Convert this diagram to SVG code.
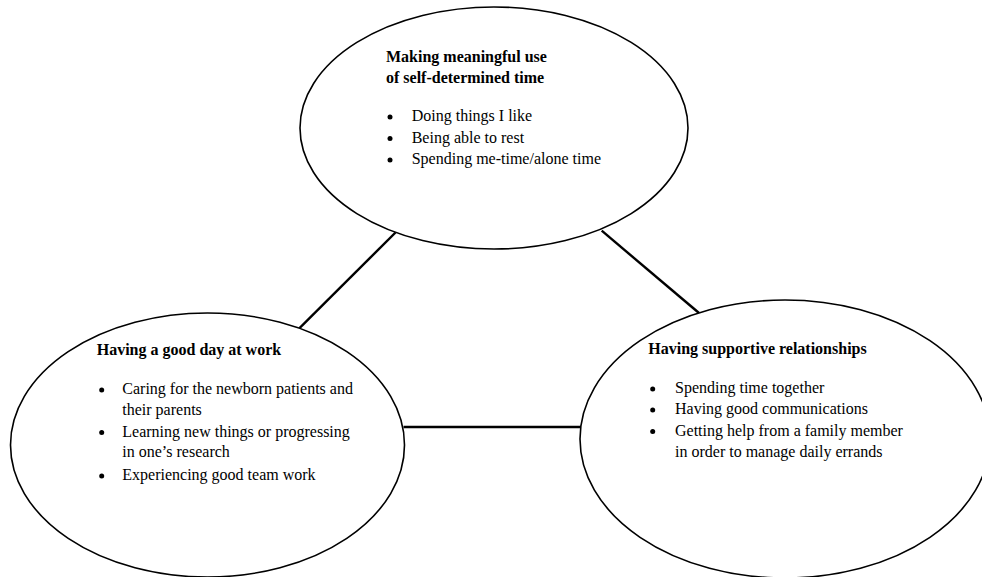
<svg xmlns="http://www.w3.org/2000/svg" width="982" height="577" viewBox="0 0 982 577">
<style>
.bg{fill:#ffffff}
.node{fill:#ffffff;stroke:#000000;stroke-width:1.6}
.edge{stroke:#000000;stroke-width:2.4;fill:none}
.dot{fill:#000000}
text{font-family:"Liberation Serif","Times New Roman",serif;font-size:16px;fill:#000000}
.title{font-weight:bold}
</style>
<rect class="bg" x="0" y="0" width="982" height="577"/>
<g id="connectors">
<line class="edge" x1="395.5" y1="232.5" x2="299.5" y2="328.2"/>
<line class="edge" x1="601.7" y1="230.7" x2="699" y2="313"/>
<line class="edge" x1="403.5" y1="427" x2="583.5" y2="427"/>
</g>
<g id="node-time">
<ellipse class="node" cx="494" cy="128" rx="194" ry="121"/>
<text class="title" x="386" y="62">Making meaningful use</text>
<text class="title" x="386" y="83">of self-determined time</text>
<circle class="dot" cx="390" cy="117" r="2.5"/>
<text x="411.7" y="121">Doing things I like</text>
<circle class="dot" cx="390" cy="138.5" r="2.5"/>
<text x="411.7" y="142.5">Being able to rest</text>
<circle class="dot" cx="390" cy="160" r="2.5"/>
<text x="411.7" y="164">Spending me-time/alone time</text>
</g>
<g id="node-work">
<ellipse class="node" cx="207.5" cy="445" rx="197" ry="132"/>
<text class="title" x="96.7" y="355">Having a good day at work</text>
<circle class="dot" cx="101.7" cy="390" r="2.5"/>
<text x="122.3" y="394">Caring for the newborn patients and</text>
<text x="122.3" y="414.5">their parents</text>
<circle class="dot" cx="101.7" cy="432.5" r="2.5"/>
<text x="122.3" y="436.5">Learning new things or progressing</text>
<text x="122.3" y="457">in one’s research</text>
<circle class="dot" cx="101.7" cy="476" r="2.5"/>
<text x="122.3" y="480">Experiencing good team work</text>
</g>
<g id="node-relationships">
<ellipse class="node" cx="785" cy="439" rx="205" ry="139"/>
<text class="title" x="648.3" y="354">Having supportive relationships</text>
<circle class="dot" cx="652.7" cy="389" r="2.5"/>
<text x="675" y="393">Spending time together</text>
<circle class="dot" cx="652.7" cy="410" r="2.5"/>
<text x="675" y="414">Having good communications</text>
<circle class="dot" cx="652.7" cy="431.5" r="2.5"/>
<text x="675" y="435.5">Getting help from a family member</text>
<text x="675" y="457">in order to manage daily errands</text>
</g>
</svg>
